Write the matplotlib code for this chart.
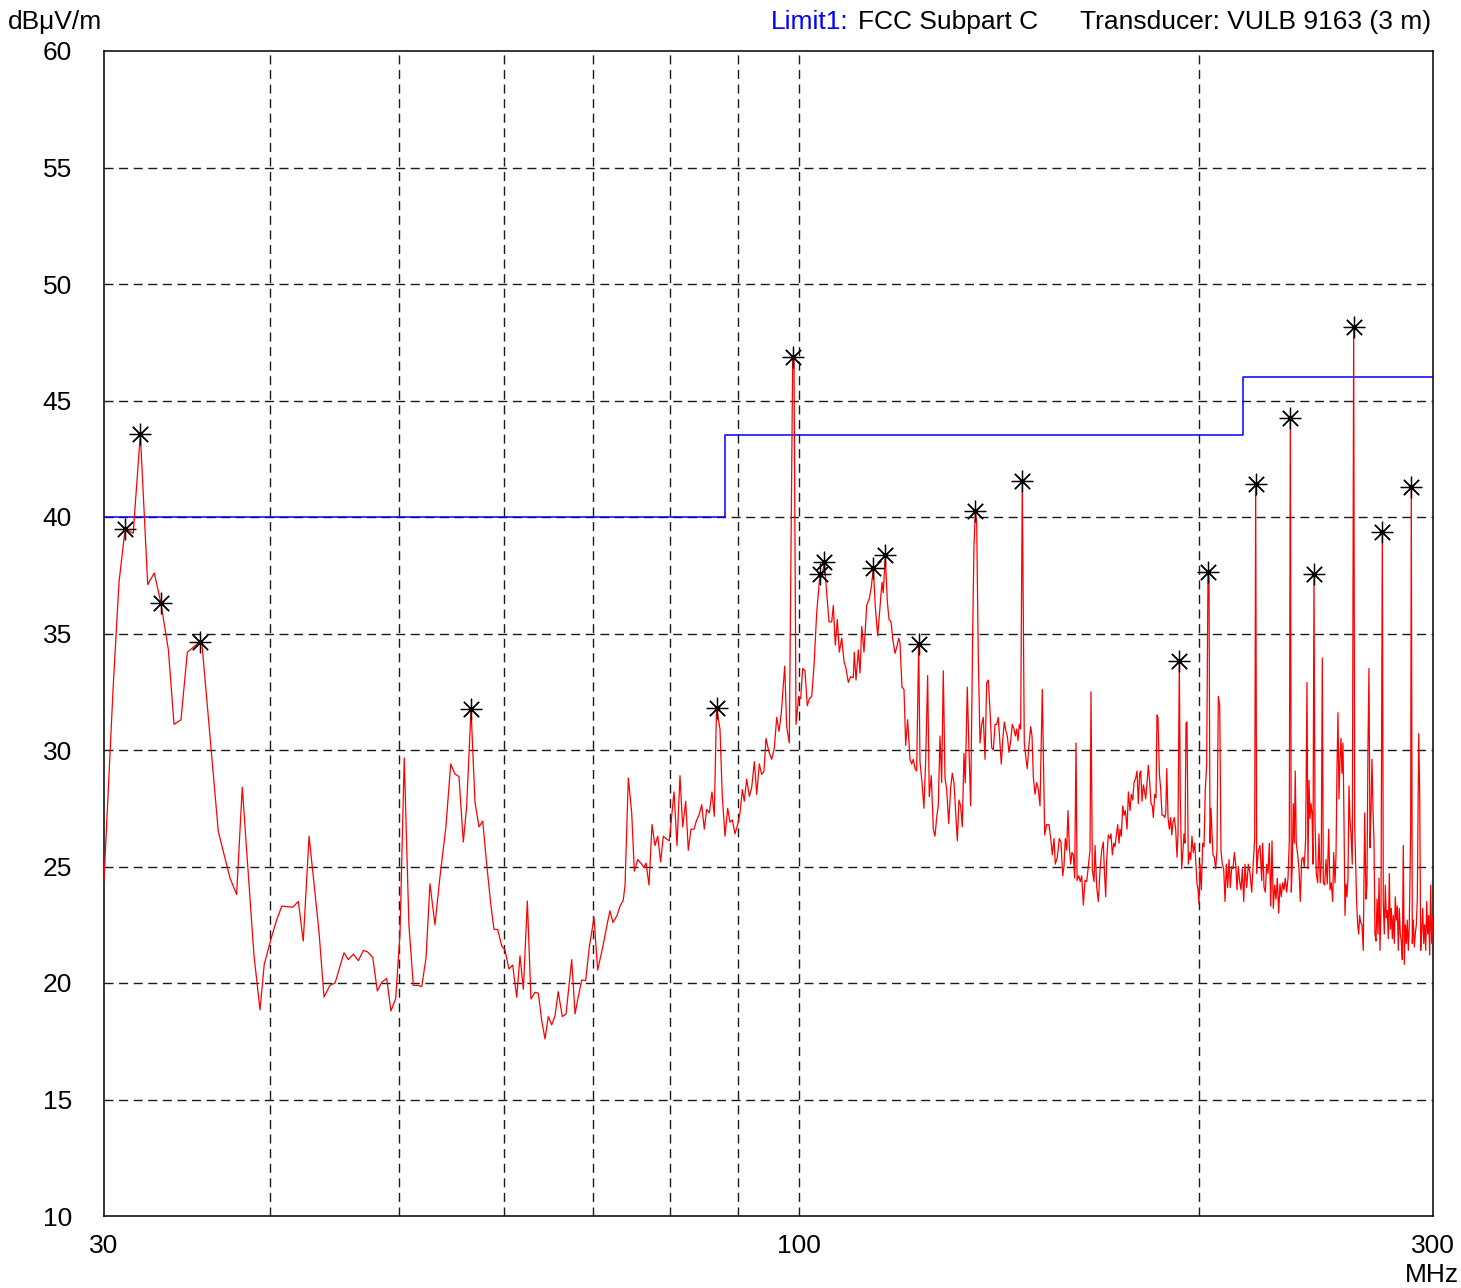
import matplotlib
matplotlib.use("Agg")
import matplotlib.pyplot as plt

plt.rcParams['font.family'] = ['Liberation Sans', 'DejaVu Sans']

# ---------------- data ----------------
trace_freq = [
    30.00, 30.48, 30.79, 31.12, 31.56, 31.62, 31.95, 32.36, 32.73, 33.11, 33.54, 33.87, 34.28, 34.66,
    35.43, 35.53, 36.57, 37.32, 37.75, 38.12, 38.90, 39.31, 39.60, 40.07, 40.46, 40.82, 41.60, 42.01,
    42.37, 42.80, 43.54, 43.92, 44.38, 44.77, 45.47, 45.81,
    46.21, 46.61, 47.02, 47.35, 47.79, 48.17, 48.54, 48.96, 49.32, 49.73, 50.10, 50.47, 50.88, 51.27,
    51.72, 52.02, 52.41, 52.77, 53.23, 53.69, 54.25, 54.70, 55.11, 55.49, 55.91, 56.23, 56.66, 57.05,
    57.45, 57.82, 58.22, 58.63, 58.96, 59.34, 59.75, 60.10, 60.51, 60.90, 61.33, 61.68, 62.04, 62.47,
    62.86, 63.30, 63.67, 64.04, 64.41, 64.78, 65.16, 65.54, 65.90, 66.37, 66.80, 67.46, 67.85, 68.23,
    68.64, 69.11, 69.55, 70.12, 70.56, 70.84, 71.22, 71.72, 72.08, 72.46, 72.97, 73.35, 73.76, 73.99,
    74.41, 74.85, 75.19, 75.63, 76.16, 76.46, 76.73, 77.13, 77.53, 77.93, 78.30, 78.70, 79.06, 79.43,
    79.89, 80.54, 80.96, 81.38, 81.76, 82.19, 82.56, 82.94, 83.38, 83.77, 84.10, 84.50, 84.88, 85.23,
    85.62, 86.02, 86.36, 86.70, 87.22, 87.57, 87.98, 88.39, 88.74, 89.10, 89.52, 89.94, 90.30, 90.66,
    90.97, 91.35, 91.77, 92.15, 92.57, 92.95, 93.37, 93.76, 94.13, 94.46, 94.95, 95.40, 95.83, 96.23,
    96.61, 97.00, 97.57, 97.90, 98.35, 98.93, 99.15, 99.50, 99.96, 100.31, 100.66, 101.06, 101.46,
    101.82, 102.24, 102.65, 103.13, 103.72, 104.03, 104.51, 104.94, 105.36, 105.85, 106.14, 106.51,
    106.88, 107.25, 107.70, 108.13, 108.50, 108.94, 109.39, 109.88, 110.07, 110.40, 110.84, 111.17,
    111.50, 111.94, 112.46, 112.97, 113.37, 113.76, 114.15, 114.63, 115.08, 115.48, 115.74, 116.14,
    116.55, 116.89, 117.30, 117.70, 118.11, 118.46, 118.87, 119.14, 119.55, 119.97, 120.32, 120.73,
    121.22, 121.58, 121.92, 122.28, 122.63, 123.06, 123.34, 123.77, 124.19, 124.57, 124.99, 125.34,
    125.78, 126.22, 126.59, 126.96, 127.31, 127.69, 128.06, 128.42, 128.80, 129.18, 129.63, 130.08,
    130.44, 130.82, 131.21, 131.58, 131.96, 132.35, 132.72, 133.11, 133.41, 133.87, 134.27, 134.66,
    135.13, 135.43, 135.75, 136.07, 136.45, 136.86, 137.26, 137.64, 138.05, 138.45, 138.84, 139.25,
    139.66, 140.05, 140.46, 140.87, 141.26, 141.68, 142.00, 142.34, 142.74, 143.15, 143.48, 143.91,
    144.33, 144.73, 145.16, 145.48, 145.84, 146.17, 146.50, 146.85, 147.26, 147.77, 148.21, 148.54,
    148.90, 149.42, 149.76, 150.10, 150.54, 150.98, 151.40, 151.85, 152.45, 153.09, 153.62, 154.23,
    154.77, 155.12, 155.58, 155.93, 156.47, 157.01, 157.47, 157.94, 158.29, 158.65, 159.03, 159.39,
    159.75, 160.14, 160.50, 160.87, 161.25, 161.63, 161.92, 162.39, 162.84, 163.23, 163.69, 164.17,
    164.65, 165.11, 165.59, 165.88, 166.26, 166.75, 167.04, 167.53, 168.00, 168.49, 168.99, 169.45,
    169.75, 170.16, 170.45, 170.93, 171.43, 171.73, 172.12, 172.53, 172.92, 173.32, 173.74, 174.13,
    174.43, 174.82, 175.25, 175.64, 176.04, 176.57, 176.97, 177.48, 177.88, 178.32, 178.72, 179.24,
    179.65, 180.05, 180.49, 180.81, 181.21, 181.62, 181.93, 182.37, 182.79, 183.20, 183.64, 184.06,
    184.47, 184.79, 185.24, 185.66, 185.97, 186.29, 186.73, 187.17, 187.60, 188.03, 188.49, 188.81,
    189.14, 189.56, 189.99, 190.45, 190.78, 191.20, 191.63, 192.09, 192.53, 192.86, 193.30, 193.63,
    194.10, 194.54, 194.87, 195.22, 195.55, 195.89, 196.33, 196.81, 197.15, 197.59, 198.04, 198.52,
    198.97, 199.31, 199.66, 200.00, 200.35, 200.80, 201.29, 201.75, 202.20, 202.69, 203.15, 203.50,
    203.86, 204.21, 204.57, 204.92, 205.38, 205.88, 206.34, 206.81, 207.31, 207.77, 208.24, 208.75,
    209.23, 209.70, 210.21, 210.69, 211.16, 211.67, 212.15, 212.63, 213.14, 213.62, 214.10, 214.62,
    215.11, 215.60, 216.12, 216.61, 217.24, 217.85, 218.49, 219.13, 219.74, 220.27, 220.65, 221.03,
    221.64, 222.31, 222.96, 223.34, 223.86, 224.36, 224.90, 225.41, 225.92, 226.47, 226.98, 227.49,
    228.04, 228.55, 229.06, 229.62, 230.14, 230.65, 231.22, 231.74, 232.26, 232.83, 233.36, 233.88,
    234.29, 234.69, 235.10, 235.50, 235.91, 236.31, 236.72, 237.30, 237.84, 238.37, 238.95, 239.49,
    240.03, 240.61, 241.15, 241.57, 241.99, 242.41, 242.83, 243.26, 243.68, 244.10, 244.52, 245.08,
    245.67, 246.22, 246.77, 247.20, 247.63, 248.07, 248.66, 249.23, 249.79, 250.40, 250.96, 251.52,
    252.14, 252.58, 253.15, 253.60, 254.02, 254.47, 254.90, 255.35, 255.79, 256.23, 256.68, 257.12,
    257.57, 258.01, 258.46, 258.91, 259.36, 259.81, 260.26, 260.85, 261.48, 261.93, 262.39, 262.84,
    263.30, 263.75, 264.19, 264.65, 265.27, 265.86, 266.51, 267.11, 267.57, 268.04, 268.50, 268.97,
    269.44, 269.90, 270.37, 270.84, 271.30, 271.79, 272.28, 272.75, 273.22, 273.68, 274.16, 274.78,
    275.25, 275.73, 276.21, 276.69, 277.17, 277.64, 278.13, 278.61, 279.09, 279.58, 280.06, 280.54,
    281.03, 281.52, 282.01, 282.50, 282.99, 283.48, 283.97, 284.46, 284.95, 285.45, 285.94, 286.44,
    286.93, 287.43, 287.93, 288.62, 288.92, 289.43, 289.93, 290.43, 290.94, 291.45, 291.96, 292.66,
    293.17, 293.67, 294.18, 294.69, 295.20, 295.72, 296.23, 296.75, 297.26, 297.77, 298.29, 298.81,
    299.32, 300.00,
]

trace_level = [
    24.4, 32.7, 37.2, 39.5, 39.3, 40.0, 43.55, 37.1, 37.6, 36.3, 34.3, 31.1, 31.3, 34.2,
    34.65, 34.7, 26.5, 24.5, 23.8, 28.4, 21.2, 18.85, 20.8, 21.9, 22.7, 23.3, 23.25, 23.5,
    21.8, 26.3, 22.2, 19.4, 19.9, 20.0, 21.3, 21.0,
    21.24, 20.96, 21.4, 21.34, 21.1, 19.66, 20.03, 20.2, 18.8, 19.34, 22.1, 29.66, 22.5, 19.9,
    19.9, 19.84, 21.06, 24.26, 22.5, 24.55, 26.7, 29.4, 28.97, 28.86, 26.05, 27.55, 31.75, 27.76,
    26.7, 26.95, 25.1, 23.4, 22.3, 22.3, 21.6, 21.4, 20.6, 20.77, 19.39, 21.17, 19.73, 23.52,
    19.31, 19.6, 19.56, 18.4, 17.6, 18.56, 18.2, 18.6, 19.63, 18.56, 18.67, 21.0, 18.67, 19.4,
    20.13, 20.1, 21.55, 22.8, 20.55, 21.0, 21.6, 22.5, 23.1, 22.6, 22.9, 23.3, 23.55, 24.2,
    28.8, 27.3, 24.8, 25.3, 25.1, 24.95, 25.15, 24.2, 26.8, 25.9, 26.3, 25.2, 26.3, 26.2,
    26.1, 28.2, 25.9, 28.9, 26.7, 27.8, 25.7, 26.6, 26.6, 27.0, 27.2, 27.65, 26.6, 27.45,
    27.3, 28.2, 27.15, 31.8, 30.9, 28.0, 26.3, 27.5, 26.9, 27.0, 26.4, 26.8, 27.3, 28.3,
    27.8, 28.75, 28.0, 28.4, 29.5, 28.1, 29.4, 28.95, 29.1, 30.5, 29.9, 29.6, 30.1, 31.4,
    30.8, 31.6, 33.6, 31.0, 30.3, 46.85, 46.8, 31.1, 32.3, 32.2, 33.5, 33.4, 31.9,
    32.2, 32.3, 33.6, 35.9, 37.55, 37.4, 38.05, 36.7, 35.5, 35.5, 36.2, 34.5,
    35.6, 34.2, 34.8, 33.8, 33.5, 32.9, 33.15, 33.1, 34.2, 33.0, 34.3, 33.3,
    35.3, 34.2, 36.2, 36.5, 37.0, 37.8, 36.15, 34.9, 36.15, 37.2, 36.75, 38.35,
    36.4, 35.6, 35.5, 34.7, 34.15, 34.4, 34.8, 34.6, 32.7, 32.6, 30.2, 31.3,
    29.6, 29.4, 29.6, 29.2, 29.1, 34.55, 29.5, 28.6, 27.5, 29.6, 33.2, 28.0,
    28.9, 26.6, 26.3, 27.1, 27.6, 30.6, 28.6, 33.4, 28.8, 28.3, 26.85, 28.4,
    29.0, 28.6, 27.3, 26.1, 27.85, 27.6, 26.7, 29.85, 28.6, 32.7, 30.0, 27.6,
    35.0, 38.7, 40.25, 39.8, 34.0, 30.3, 31.1, 31.4, 29.6, 32.9, 33.0, 31.7,
    30.1, 30.0, 31.1, 31.1, 31.4, 30.3, 29.4, 30.4, 31.2, 30.8, 30.6, 29.9,
    30.4, 31.1, 30.9, 30.6, 30.9, 30.4, 31.1, 30.9, 41.55, 30.3, 29.6, 29.2,
    30.1, 31.0, 30.6, 28.85, 28.1, 28.6, 28.3, 27.6, 32.6, 26.35, 26.8, 26.8,
    26.1, 25.5, 26.2, 25.1, 25.4, 26.2, 26.05, 24.6, 25.0, 26.2, 25.7, 27.4,
    25.85, 25.1, 25.6, 25.5, 24.5, 30.3, 24.4, 24.6, 24.35, 24.6, 23.35, 24.4,
    24.35, 25.0, 25.7, 32.5, 24.85, 24.35, 25.9, 24.1, 23.5, 24.85, 25.7, 26.05,
    24.85, 23.7, 25.3, 26.35, 26.2, 26.4, 25.5, 26.0, 25.85, 26.35, 26.8, 26.0,
    26.6, 26.3, 27.6, 27.2, 27.4, 26.6, 28.2, 27.4, 28.1, 27.85, 28.6, 28.8,
    29.1, 27.7, 29.0, 29.1, 27.8, 28.5, 28.3, 27.9, 28.6, 29.35, 28.6, 27.7,
    27.6, 27.1, 28.1, 27.95, 31.5, 31.4, 29.0, 28.3, 27.2, 27.2, 27.1, 27.3,
    29.2, 27.1, 26.6, 27.1, 26.35, 26.9, 27.1, 26.6, 25.4, 26.4, 33.8, 28.0,
    24.9, 25.7, 26.4, 26.0, 31.15, 31.2, 25.1, 25.6, 25.3, 26.3, 25.6, 26.0,
    25.0, 24.3, 24.0, 23.4, 25.1, 24.0, 26.0, 25.85, 28.3, 29.4, 37.65, 37.3,
    26.0, 27.5, 26.4, 25.5, 25.4, 24.9, 25.7, 32.3, 31.9, 25.7, 25.1, 24.9,
    23.5, 25.1, 24.1, 25.3, 24.1, 25.0, 24.9, 25.6, 25.1, 24.0, 25.0, 24.35,
    24.0, 24.9, 23.5, 25.1, 24.1, 25.1, 24.7, 23.9, 25.2, 26.2, 41.4, 24.7,
    25.65, 25.9, 24.4, 26.0, 24.1, 23.9, 25.1, 24.7, 26.0, 23.3, 26.1, 23.2,
    24.2, 23.6, 24.5, 23.0, 24.25, 23.7, 24.3, 24.0, 24.5, 23.9, 24.5, 26.1,
    44.25, 23.9, 25.1, 27.7, 26.0, 29.1, 26.0, 25.5, 24.9, 23.5, 25.3, 25.4,
    25.0, 26.2, 32.9, 24.9, 28.7, 27.05, 27.7, 27.3, 25.1, 37.55, 27.0, 24.7,
    24.3, 26.4, 24.3, 25.1, 33.95, 24.3, 24.2, 25.3, 24.25, 26.6, 24.0, 24.3,
    23.5, 25.6, 24.3, 25.5, 29.2, 31.6, 27.9, 29.6, 30.5, 29.0, 30.3, 27.05,
    22.9, 24.25, 23.7, 24.5, 28.45, 27.0, 26.4, 25.1, 48.15, 26.8, 25.1, 23.4,
    22.5, 22.1, 22.9, 22.6, 22.5, 21.4, 27.3, 23.6, 24.2, 30.2, 33.5, 25.8,
    27.3, 29.6, 27.5, 26.1, 22.1, 21.8, 23.6, 22.1, 24.5, 21.4, 23.2, 39.35,
    23.4, 22.1, 24.2, 22.8, 23.1, 21.9, 24.7, 22.3, 23.2, 21.9, 22.9, 21.7,
    23.7, 22.7, 23.3, 21.4, 23.2, 22.1, 21.8, 21.0, 25.9, 20.8, 22.5, 21.7,
    22.7, 21.4, 22.5, 26.6, 41.3, 21.7, 22.7, 21.55, 22.1, 22.5, 23.6, 30.7,
    28.1, 21.4, 22.2, 23.2, 21.7, 22.5, 21.4, 23.5, 22.1, 22.9, 21.2, 24.2,
    21.7, 22.9,
]

limit_freq = [30, 88, 88, 216, 216, 300]
limit_level = [40, 40, 43.5, 43.5, 46, 46]

marker_freq = [31.12, 31.95, 33.11, 35.43, 56.66, 86.70, 98.93, 103.72, 104.51, 113.76, 116.14,
               123.06, 135.75, 147.26, 193.30, 203.15, 220.65, 234.29, 244.10, 261.48, 274.78, 288.92]
marker_level = [39.5, 43.55, 36.3, 34.65, 31.75, 31.8, 46.85, 37.55, 38.05, 37.8, 38.35,
                34.55, 40.25, 41.55, 33.8, 37.65, 41.4, 44.25, 37.55, 48.15, 39.35, 41.3]

x_ticks = [30, 100, 300]
x_tick_labels = ["30", "100", "300"]
y_ticks = [10, 15, 20, 25, 30, 35, 40, 45, 50, 55, 60]
x_grid = [40, 50, 60, 70, 80, 90, 100, 200]
y_grid = [15, 20, 25, 30, 35, 40, 45, 50, 55]

# ---------------- figure ----------------
W, H = 1461, 1288
fig = plt.figure(figsize=(W / 100, H / 100), dpi=100)
L, R, T, B = 104, 1433, 51, 1216
ax = fig.add_axes([L / W, 1 - B / H, (R - L) / W, (B - T) / H])
ax.set_xscale('log')
ax.set_xlim(30, 300)
ax.set_ylim(10, 60)

FS = 19
dash = (6.5, 4.0)
for f in x_grid:
    ax.axvline(f, color='#1a1a1a', lw=1.0, ls=(0, dash), zorder=1)
for v in y_grid:
    ax.axhline(v, color='#1a1a1a', lw=1.0, ls=(0, dash), zorder=1)

ax.plot(limit_freq, limit_level, color='#0000ff', lw=1.1, zorder=2)
ax.plot(trace_freq, trace_level, color='#ff0000', lw=0.9, zorder=3)
ax.plot(marker_freq, marker_level, ls='none', marker=(8, 2, 0), ms=15.5, mew=0.9,
        color='black', zorder=4)
ax.plot(marker_freq, marker_level, ls='none', marker='o', ms=2.5, color='black', zorder=5)

ax.xaxis.set_major_locator(matplotlib.ticker.FixedLocator(x_ticks))
ax.xaxis.set_minor_locator(matplotlib.ticker.NullLocator())
ax.set_xticklabels(x_tick_labels)
ax.set_yticks(y_ticks)
ax.set_yticklabels([str(v) for v in y_ticks])
ax.tick_params(axis='both', which='both', length=0, labelsize=FS)
ax.tick_params(axis='y', pad=23)
ax.tick_params(axis='x', pad=13)
for sp in ax.spines.values():
    sp.set_linewidth(1.1)
    sp.set_color('black')

def fy(py):
    return 1 - py / H

fig.text(8 / W, fy(22), "dBμV/m", fontsize=FS, ha='left', va='center')
fig.text(771 / W, fy(22), "Limit1:", fontsize=FS, ha='left', va='center', color='#0000ff')
fig.text(1038 / W, fy(22), "FCC Subpart C", fontsize=FS, ha='right', va='center')
fig.text(1431 / W, fy(22), "Transducer: VULB 9163 (3 m)", fontsize=FS, ha='right', va='center')
fig.text(1459 / W, fy(1275), "MHz", fontsize=FS, ha='right', va='center')

fig.savefig("out.png", dpi=100, facecolor='white')
